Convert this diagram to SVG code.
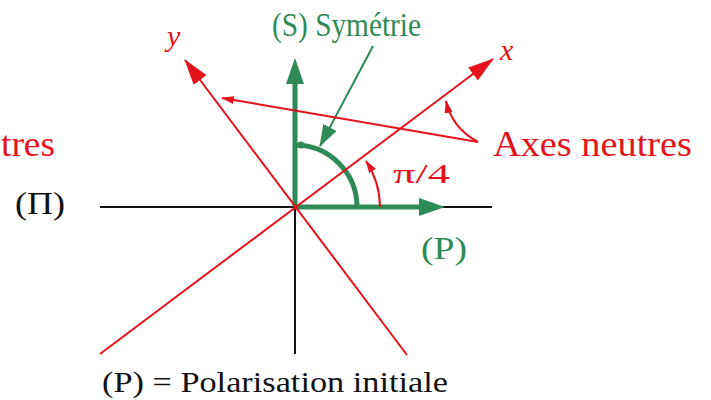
<svg xmlns="http://www.w3.org/2000/svg" width="711" height="400" viewBox="0 0 711 400">
<style>
text{font-family:'Liberation Serif','DejaVu Serif','Times New Roman',serif}
.red{fill:#e3121b}
.grn{fill:#2e8b57}
.blk{fill:#111}
.ax{stroke:#111;stroke-width:2;fill:none}
.rl{stroke:#e3121b;stroke-width:2;fill:none}
.gl{stroke:#2e8b57;stroke-width:5;fill:none}
.ga{stroke:#2e8b57;stroke-width:2;fill:none}
</style>
<defs>
<marker id="ahRed" markerUnits="userSpaceOnUse" markerWidth="26" markerHeight="16" viewBox="0 0 26 16" refX="25" refY="8" orient="auto"><path d="M0,0 L26,8 L0,16 Z" fill="#e3121b"/></marker>
<marker id="ahRedS" markerUnits="userSpaceOnUse" markerWidth="13" markerHeight="8" viewBox="0 0 13 8" refX="12" refY="4" orient="auto"><path d="M0,0 L13,4 L0,8 Z" fill="#e3121b"/></marker>
<marker id="ahGrn" markerUnits="userSpaceOnUse" markerWidth="26" markerHeight="18" viewBox="0 0 26 18" refX="3" refY="9" orient="auto"><path d="M0,0 L26,9 L0,18 Z" fill="#2e8b57"/></marker>
<marker id="ahGrnS" markerUnits="userSpaceOnUse" markerWidth="22" markerHeight="15" viewBox="0 0 22 15" refX="21" refY="7.5" orient="auto"><path d="M0,0 L22,7.5 L0,15 Z" fill="#2e8b57"/></marker>
</defs>

<g id="connectors">
  <path id="axis-h" class="ax" d="M100,207 H492"/>
  <path id="axis-v" class="ax" d="M295,207 V354"/>
  <path id="vec-S" class="gl" d="M295,207 V81" marker-end="url(#ahGrn)"/>
  <path id="vec-P" class="gl" d="M295,207 H422" marker-end="url(#ahGrn)"/>
  <path id="arc-S" class="gl" d="M295,145 A62,62 0 0 1 357,207"/>
  <circle cx="301" cy="145" r="3.5" fill="#2e8b57"/>
  <path id="ptr-S" class="ga" d="M373,46 Q352,86 320,146" marker-end="url(#ahGrnS)"/>
  <path id="axis-x" class="rl" d="M100,354 L493,59" marker-end="url(#ahRed)"/>
  <path id="axis-y" class="rl" d="M407,355 L185,60" marker-end="url(#ahRed)"/>
  <path id="arc-pi4" class="rl" d="M380,207 A85,85 0 0 0 366,161" marker-end="url(#ahRedS)"/>
  <path id="ptr-neutre-y" class="rl" d="M478,142 L222,98" marker-end="url(#ahRedS)"/>
  <path id="ptr-neutre-x" class="rl" d="M478,142 Q452,128 446,101" marker-end="url(#ahRedS)"/>
</g>

<g id="label-S"><text class="grn" x="272" y="36" font-size="34" textLength="149" lengthAdjust="spacingAndGlyphs">(S) Symétrie</text></g>
<g id="label-y"><text class="red" x="167" y="46" font-size="30" font-style="italic">y</text></g>
<g id="label-x"><text class="red" x="500" y="60" font-size="30" font-style="italic">x</text></g>
<g id="label-axes"><text class="red" x="493" y="156" font-size="35" textLength="199" lengthAdjust="spacingAndGlyphs">Axes neutres</text></g>
<g id="label-axes-left"><text class="red" x="1" y="156" font-size="35" textLength="54" lengthAdjust="spacingAndGlyphs">tres</text></g>
<g id="label-pi4"><text class="red" x="393" y="183" font-size="28" textLength="57" lengthAdjust="spacingAndGlyphs">π/4</text></g>
<g id="label-Pi"><text class="blk" x="15" y="214" font-size="32" textLength="50" lengthAdjust="spacingAndGlyphs">(Π)</text></g>
<g id="label-P"><text class="grn" x="421" y="259" font-size="32" textLength="46" lengthAdjust="spacingAndGlyphs">(P)</text></g>
<g id="label-legend"><text class="blk" x="102" y="392" font-size="29" textLength="346" lengthAdjust="spacingAndGlyphs">(P) = Polarisation initiale</text></g>
</svg>
